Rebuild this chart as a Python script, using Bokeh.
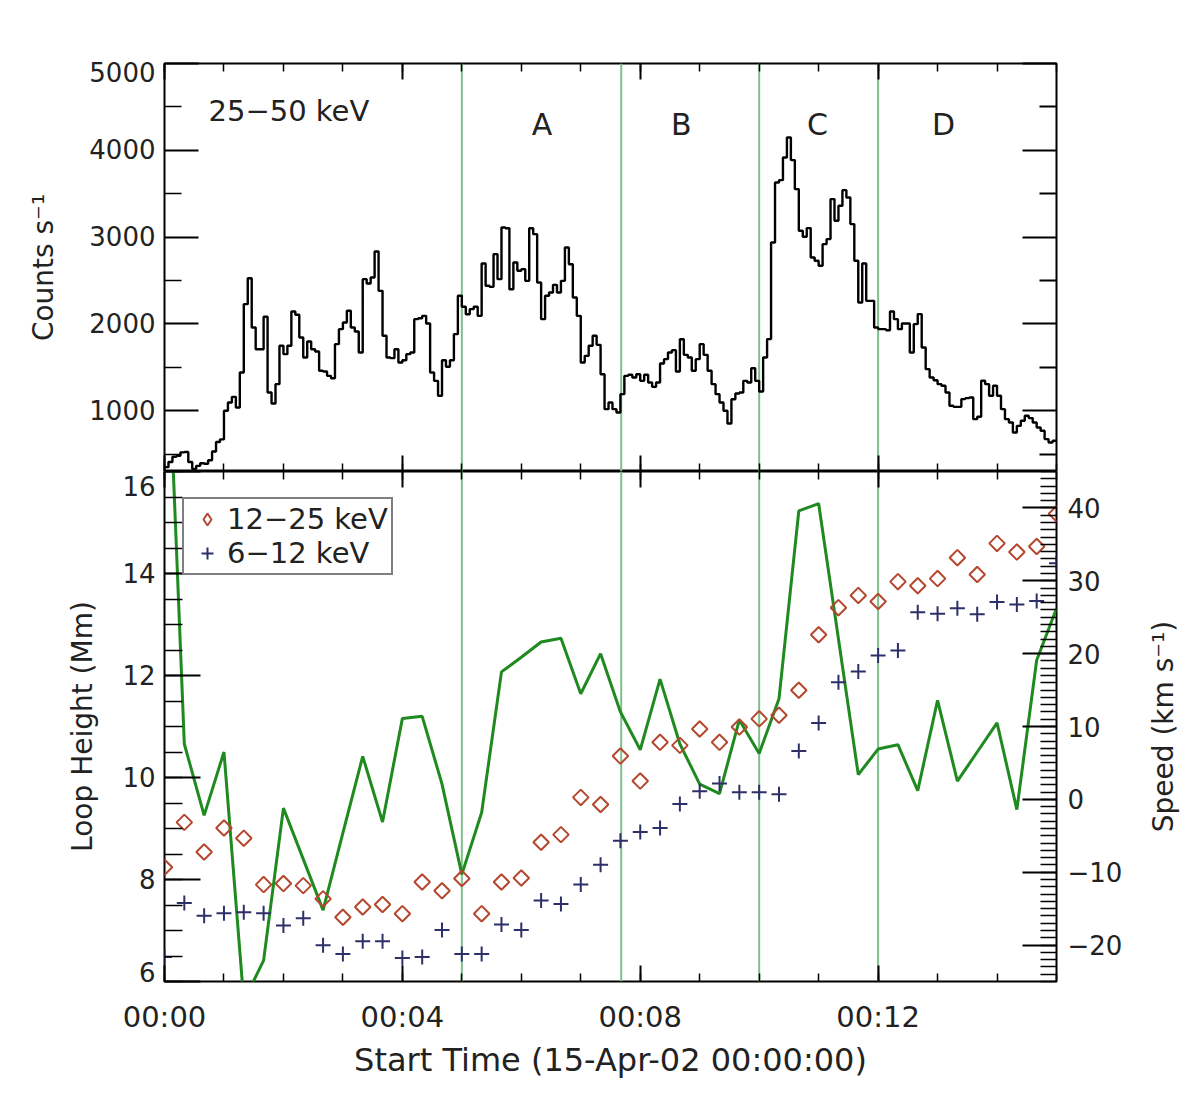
import numpy as np
from bokeh.plotting import figure
from bokeh.models import Range1d, LinearAxis, FixedTicker, Span, Label, Legend, LegendItem
from bokeh.layouts import column, row
from bokeh.embed import file_html
from bokeh.resources import INLINE

# ------------------------------------------------------------------ data
BIN_SECONDS = 4          # 25-50 keV light curve bins
counts_25_50 = [
    350, 410, 470, 480, 520, 525, 410, 330, 365, 395, 390, 430, 530, 640, 670,
    1000, 1095, 1160, 1037, 1440, 2228, 2527, 1959, 1709, 1709, 2082, 1210, 1083, 1306, 1748,
    1652, 1748, 2143, 2105, 1844, 1613, 1798, 1709, 1682, 1460, 1452, 1402, 1375, 1767, 1940,
    2016, 2151, 1959, 1913, 1671, 2516, 2466, 2535, 2834, 2381, 1863, 1613, 1606, 1709, 1556,
    1582, 1652, 1671, 2055, 2066, 2093, 2005, 1440, 1344, 1172, 1582, 1506, 1582, 1882, 2324,
    2197, 2112, 2170, 2197, 2093, 2696, 2439, 2427, 2804, 2516, 3111, 3103, 2400, 2708, 2612,
    2631, 2496, 3103, 3034, 2477, 2055, 2324, 2362, 2450, 2362, 2496, 2880, 2688, 2304, 2093,
    1556, 1632, 1748, 1863, 1759, 1421, 1018, 1095, 1018, 980, 1191, 1402, 1414, 1383, 1421,
    1344, 1414, 1325, 1275, 1325, 1544, 1594, 1671, 1698, 1452, 1824, 1644, 1613, 1460, 1594,
    1767, 1644, 1460, 1306, 1191, 1095, 999, 853, 1133, 1199, 1210, 1344, 1325, 1490, 1344,
    1222, 1614, 1825, 2938, 3630, 3656, 3918, 4148, 3887, 3553, 3073, 3004, 3104, 2766, 2727,
    2670, 2919, 2977, 3438, 3188, 3361, 3541, 3457, 3150, 2727, 2247, 2696, 2266, 2266, 1959,
    1940, 1940, 1928, 2143, 2055, 1940, 2005, 2005, 1671, 1998, 2113, 1729, 1479, 1383, 1352,
    1306, 1287, 1210, 1057, 1045, 1045, 1134, 1145, 1153, 903, 930, 1345, 1306, 1172, 1287,
    1172, 1018, 903, 865, 750, 826, 884, 942, 915, 865, 807, 769, 673, 634, 654,
]

CADENCE_SECONDS = 20     # loop-top centroid cadence
height_12_25 = [
    8.24, 9.12, 8.54, 9.01, 8.81, 7.90, 7.92, 7.88, 7.62, 7.26,
    7.46, 7.51, 7.33, 7.95, 7.78, 8.02, 7.33, 7.95, 8.03, 8.73,
    8.88, 9.61, 9.47, 10.42, 9.93, 10.69, 10.63, 10.95, 10.69, 10.99,
    11.15, 11.22, 11.71, 12.80, 13.33, 13.57, 13.45, 13.84, 13.76, 13.90,
    14.31, 13.98, 14.59, 14.42, 14.53, 15.17,
]
height_6_12 = [
    6.48, 7.54, 7.29, 7.34, 7.36, 7.34, 7.10, 7.24, 6.71, 6.54,
    6.79, 6.79, 6.46, 6.48, 7.01, 6.54, 6.54, 7.12, 7.01, 7.59,
    7.52, 7.90, 8.29, 8.76, 8.93, 9.01, 9.48, 9.73, 9.88, 9.71,
    9.71, 9.67, 10.52, 11.07, 11.87, 12.08, 12.39, 12.49, 13.24, 13.21,
    13.32, 13.20, 13.44, 13.39, 13.46, 14.20,
]
speed_kms = [
    75.0, 7.6, -2.2, 6.5, -27.7, -22.1, -1.2, -8.2, -15.2, -4.6,
    5.9, -3.1, 11.1, 11.4, 2.1, -10.3, -1.8, 17.5, 19.5, 21.6,
    22.1, 14.5, 20.0, 12.0, 6.8, 16.5, 7.6, 2.1, 0.8, 10.9,
    6.3, 13.8, 39.6, 40.6, 22.0, 3.4, 6.9, 7.5, 1.2, 13.6,
    2.5, 6.5, 10.5, -1.4, 19.1, 26.2,
]

phase_bounds_min = [5.0, 7.68, 10.0, 12.0]
phase_names = ["A", "B", "C", "D"]
phase_centers_min = [6.35, 8.69, 10.98, 13.1]

time_ticks = [0, 4, 8, 12]
time_minor = list(range(0, 16))
time_tick_labels = ["00:00", "00:04", "00:08", "00:12"]
count_ticks = [1000, 2000, 3000, 4000, 5000]
count_minor = [500, 1500, 2500, 3500, 4500]
count_tick_labels = ["1000", "2000", "3000", "4000", "\n5000"]
height_ticks = [6, 8, 10, 12, 14, 16]
height_minor = [6 + 0.5 * k for k in range(21)]
height_tick_labels = ["6\n", "8", "10", "12", "14", "16"]
speed_ticks = [-20, -10, 0, 10, 20, 30, 40]
speed_minor = list(range(-25, 46))
speed_tick_labels = ["\u221220", "\u221210", "0", "10", "20", "30", "40"]

# ------------------------------------------------------------------ derived
t_edges = np.arange(len(counts_25_50) + 1) * BIN_SECONDS / 60.0
c_steps = list(counts_25_50) + [counts_25_50[-1]]
t_obs = np.arange(len(height_12_25)) * CADENCE_SECONDS / 60.0

# ------------------------------------------------------------------ style
FONT = "DejaVu Sans"
INK = "#222222"
LEFT, RIGHT = 164, 72
FRAME_W = 892
W = LEFT + FRAME_W + RIGHT
TOP, H1, H2, BOTTOM = 63, 408, 510, 100
YTICK = "26px"
XTICK = "29px"
TITLE = "28px"

x_range = Range1d(0, 15)


def base_fig(height, y_range, top, bottom):
    p = figure(width=W, height=height, x_range=x_range, y_range=y_range,
               output_backend="svg", toolbar_location=None,
               min_border_left=LEFT, min_border_right=RIGHT,
               min_border_top=top, min_border_bottom=bottom)
    p.xgrid.visible = False
    p.ygrid.visible = False
    p.outline_line_color = "black"
    p.outline_line_width = 2
    p.outline_line_alpha = 1
    p.background_fill_color = "white"
    p.border_fill_color = "white"
    return p


def style_axis(ax, major_in, minor_in, size=YTICK):
    ax.axis_line_color = None
    ax.major_tick_in = major_in
    ax.major_tick_out = 0
    ax.minor_tick_in = minor_in
    ax.minor_tick_out = 0
    ax.major_tick_line_color = "black"
    ax.minor_tick_line_color = "black"
    ax.major_tick_line_width = 2
    ax.minor_tick_line_width = 1.5
    ax.major_label_text_font = FONT
    ax.major_label_text_font_size = size
    ax.major_label_text_color = INK
    ax.major_label_standoff = 9
    ax.axis_label_text_font = FONT
    ax.axis_label_text_font_size = TITLE
    ax.axis_label_text_font_style = "normal"
    ax.axis_label_text_color = INK


def tick_only_axis(ax, positions, length):
    """An axis that only draws inward tick marks (no labels, no space)."""
    ax.ticker = FixedTicker(ticks=[], minor_ticks=list(positions))
    ax.axis_line_color = None
    ax.major_tick_in = 0
    ax.major_tick_out = 0
    ax.minor_tick_in = length
    ax.minor_tick_out = 0
    ax.minor_tick_line_color = "black"
    ax.minor_tick_line_width = 2 if length > 12 else 1.5
    ax.major_label_standoff = 0
    ax.axis_label = None


def add_tick_axes(p, side, pairs, y_range_name=None):
    for positions, length in pairs:
        if y_range_name is not None:
            ax = LinearAxis(y_range_name=y_range_name)
        else:
            ax = LinearAxis()
        tick_only_axis(ax, positions, length)
        p.add_layout(ax, side)


# ------------------------------------------------------------------ top panel
p1 = base_fig(TOP + H1, Range1d(300, 5000), TOP, 0)

tick_only_axis(p1.xaxis[0], time_minor, 8)
add_tick_axes(p1, "below", [(time_ticks, 16)])
add_tick_axes(p1, "above", [(time_minor, 8), (time_ticks, 16)])

ax = p1.yaxis[0]
ax.ticker = FixedTicker(ticks=count_ticks, minor_ticks=count_minor)
style_axis(ax, 34, 17)
ax.major_label_overrides = dict(zip(count_ticks, count_tick_labels))
ax.major_label_text_line_height = 0.6
ax.axis_label = "Counts s\u207b\u00b9"
ax.axis_label_standoff = 26
add_tick_axes(p1, "right", [(count_minor, 17), (count_ticks, 34)])

for tb in phase_bounds_min:
    p1.add_layout(Span(location=tb, dimension="height", line_color="#7fbf8c",
                       line_width=2, level="underlay"))

p1.step(t_edges, c_steps, mode="after", line_color="black", line_width=2.4)

p1.add_layout(Label(x=0.74, y=4455, text="25\u221250 keV", text_align="left",
                    text_baseline="middle", text_font=FONT, text_font_size="29px",
                    text_color=INK))
for name, tc in zip(phase_names, phase_centers_min):
    p1.add_layout(Label(x=tc, y=4300, text=name, text_align="center",
                        text_baseline="middle", text_font=FONT,
                        text_font_size="30px", text_color=INK))

# ------------------------------------------------------------------ bottom panel
p2 = base_fig(H2 + BOTTOM, Range1d(6, 16), 0, BOTTOM)
p2.extra_y_ranges = {"speed": Range1d(-25, 45)}

ax = p2.xaxis[0]
ax.ticker = FixedTicker(ticks=time_ticks, minor_ticks=time_minor)
style_axis(ax, 16, 8, XTICK)
ax.major_label_overrides = dict(zip(time_ticks, time_tick_labels))
ax.major_label_standoff = 18
ax.axis_label = "Start Time (15-Apr-02 00:00:00)"
ax.axis_label_standoff = 4
ax.axis_label_text_font_size = "32px"
add_tick_axes(p2, "above", [(time_minor, 8), (time_ticks, 16)])

ax = p2.yaxis[0]
ax.ticker = FixedTicker(ticks=height_ticks, minor_ticks=height_minor)
style_axis(ax, 36, 18)
ax.major_label_overrides = dict(zip(height_ticks, height_tick_labels))
ax.major_label_text_line_height = 0.6
ax.axis_label = "Loop Height (Mm)"
ax.axis_label_standoff = 20

s_ax = LinearAxis(y_range_name="speed",
                  ticker=FixedTicker(ticks=speed_ticks, minor_ticks=speed_minor))
style_axis(s_ax, 34, 16)
s_ax.major_label_overrides = dict(zip(speed_ticks, speed_tick_labels))
s_ax.major_label_standoff = 11
p2.add_layout(s_ax, "right")

for tb in phase_bounds_min:
    p2.add_layout(Span(location=tb, dimension="height", line_color="#7fbf8c",
                       line_width=2, level="underlay"))

p2.line(t_obs, speed_kms, y_range_name="speed", line_color="#1f8a1f", line_width=3)
r_d = p2.scatter(t_obs, height_12_25, marker="square", size=11, angle=np.pi / 4,
                 fill_color=None, line_color="#b5472f", line_width=2)
r_p = p2.scatter(t_obs, height_6_12, marker="cross", size=15,
                 line_color="#2d2f68", line_width=2)
# legend swatch for the diamonds (legend swatches ignore marker angle)
r_d_key = p2.scatter(t_obs[:1], height_12_25[:1], marker="diamond", size=11,
                     fill_color=None, line_color="#b5472f", line_width=2,
                     visible=False)

legend = Legend(items=[LegendItem(label="12\u221225 keV", renderers=[r_d_key]),
                       LegendItem(label="6\u221212 keV", renderers=[r_p])],
                location=(18, 406))
legend.border_line_color = "black"
legend.border_line_width = 2
legend.background_fill_color = "white"
legend.background_fill_alpha = 1
legend.label_text_font = FONT
legend.label_text_font_size = "29px"
legend.label_text_color = INK
legend.glyph_width = 40
legend.glyph_height = 30
legend.label_height = 30
legend.label_standoff = 0
legend.spacing = 0
legend.padding = 3
legend.margin = 0
p2.add_layout(legend)

# ------------------------------------------------------------------ right title strip
# holds the speed-axis title, reading bottom-to-top and centred on the lower panel
p3 = figure(width=58, height=TOP + H1 + H2 + BOTTOM,
            x_range=Range1d(0, 1), y_range=Range1d(0, 1),
            output_backend="svg", toolbar_location=None,
            min_border_left=56, min_border_right=0,
            min_border_top=TOP + H1, min_border_bottom=BOTTOM)
p3.xgrid.visible = False
p3.ygrid.visible = False
p3.xaxis.visible = False
p3.outline_line_color = None
p3.background_fill_color = "white"
p3.border_fill_color = "white"
tax = p3.yaxis[0]
tick_only_axis(tax, [], 0)
tax.axis_label = "Speed (km s\u207b\u00b9)"
tax.axis_label_text_font = FONT
tax.axis_label_text_font_size = TITLE
tax.axis_label_text_font_style = "normal"
tax.axis_label_text_color = INK
tax.axis_label_standoff = 5

layout = row(column(p1, p2, spacing=0), p3, spacing=0)
open("out.html", "w").write(file_html(layout, INLINE))
